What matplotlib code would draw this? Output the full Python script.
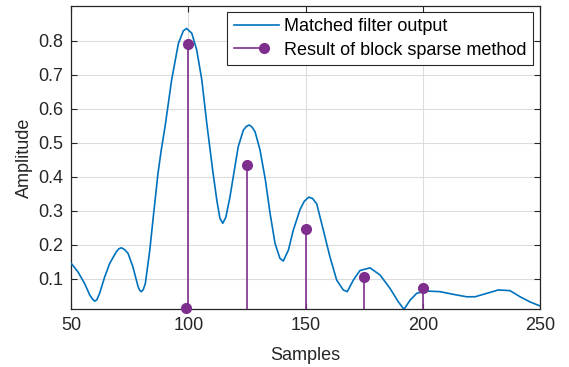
import matplotlib
matplotlib.use("Agg")
import matplotlib.pyplot as plt
from matplotlib.lines import Line2D
from matplotlib.legend_handler import HandlerBase

plt.rcParams['font.family'] = ['Liberation Sans', 'DejaVu Sans']

# Matched filter output (samples, amplitude)
mf_x = [50.1, 52.9, 55.8, 58.0, 59.2, 60.1, 61.0, 62.2, 64.4, 66.5, 69.3, 70.4, 71.5, 72.8,
        74.3, 76.4, 78.6, 79.3, 80.0, 80.8, 81.7, 83.6, 85.4, 87.1, 88.5, 90.1, 92.9, 95.8,
        97.9, 99.3, 101.5, 103.6, 105.8, 107.9, 110.4, 112.2, 113.5, 114.7, 116.0, 117.8,
        119.2, 121.3, 123.5, 124.8, 126.0, 127.2, 128.5, 130.6, 132.9, 134.9, 137.0, 139.1,
        140.5, 142.7, 144.8, 147.7, 149.5, 151.4, 153.0, 154.8, 157.6, 160.4, 163.3, 166.1,
        167.8, 170.4, 173.2, 177.5, 181.8, 186.0, 189.6, 192.0, 194.6, 197.4, 201.0, 207.4,
        213.1, 218.7, 222.3, 227.3, 232.2, 237.2, 241.5, 245.7, 250.0]
mf_y = [0.145, 0.121, 0.086, 0.052, 0.040, 0.034, 0.038, 0.057, 0.106, 0.145, 0.179, 0.188,
        0.191, 0.186, 0.175, 0.135, 0.077, 0.066, 0.062, 0.068, 0.086, 0.184, 0.302, 0.410,
        0.479, 0.547, 0.684, 0.792, 0.829, 0.836, 0.822, 0.773, 0.684, 0.557, 0.420, 0.330,
        0.278, 0.263, 0.280, 0.341, 0.400, 0.488, 0.537, 0.548, 0.552, 0.546, 0.532, 0.479,
        0.390, 0.292, 0.204, 0.160, 0.152, 0.184, 0.243, 0.304, 0.328, 0.340, 0.336, 0.320,
        0.243, 0.165, 0.096, 0.067, 0.062, 0.096, 0.124, 0.132, 0.111, 0.072, 0.032, 0.010,
        0.037, 0.057, 0.064, 0.062, 0.054, 0.047, 0.047, 0.057, 0.067, 0.065, 0.047, 0.032,
        0.020]

# Block sparse method result
bs_x = [99, 100, 125, 150, 175, 200]
bs_y = [0.015, 0.79, 0.435, 0.245, 0.104, 0.073]

x_ticks = [50, 100, 150, 200, 250]
y_ticks = [0.1, 0.2, 0.3, 0.4, 0.5, 0.6, 0.7, 0.8]

blue = '#0072BD'
purple = '#7E2F8E'
axcol = '#262626'

fig = plt.figure(figsize=(5.69, 3.67), dpi=100)
ax = fig.add_axes([71/569, 1-309/367, 469/569, 303/367])

ax.plot(mf_x, mf_y, color=blue, lw=1.2, zorder=3)
ax.vlines(bs_x, 0, bs_y, color=purple, lw=1.2, zorder=4)
ax.plot(bs_x, bs_y, 'o', color=purple, ms=7, zorder=5, clip_on=False)

ax.set_xlim(50, 250)
ax.set_ylim(0.011, 0.902)
ax.set_xticks(x_ticks)
ax.set_yticks(y_ticks)
ax.set_yticklabels([f'{v:g}' for v in y_ticks])
ax.grid(True, color='#dcdcdc', lw=0.8)
ax.set_axisbelow(True)
for s in ax.spines.values():
    s.set_color(axcol)
    s.set_linewidth(0.9)
ax.tick_params(direction='in', length=4, width=0.8, colors=axcol, labelsize=13,
               top=True, right=True, labelcolor='#262626')
ax.tick_params(axis='x', pad=6)
ax.tick_params(axis='y', pad=5.5)
ax.set_xlabel('Samples', fontsize=13, color='#262626', labelpad=9)
ax.set_ylabel('Amplitude', fontsize=13, color='#262626', labelpad=4)


class StemHandler(HandlerBase):
    def create_artists(self, legend, orig_handle, xdescent, ydescent, width, height,
                       fontsize, trans):
        y = height / 2 - ydescent
        x0 = -xdescent
        xm = x0 + 0.67 * width
        ln = Line2D([x0, xm], [y, y], color=purple, lw=1.2)
        mk = Line2D([xm], [y], marker='o', color=purple, ms=7, ls='none')
        ln.set_transform(trans)
        mk.set_transform(trans)
        return [ln, mk]


h1 = Line2D([], [], color=blue, lw=1.2)
h2 = Line2D([], [], color=purple)
leg = ax.legend([h1, h2], ['Matched filter output', 'Result of block sparse method'],
                loc='upper right', bbox_to_anchor=(462/469, (309-12)/303),
                borderaxespad=0, fontsize=13, fancybox=False, framealpha=1,
                edgecolor=axcol, handlelength=2.5, handletextpad=0.3,
                borderpad=0.35, labelspacing=0.35,
                handler_map={h2: StemHandler()})
leg.get_frame().set_linewidth(0.8)

fig.savefig('out.png', dpi=100)
